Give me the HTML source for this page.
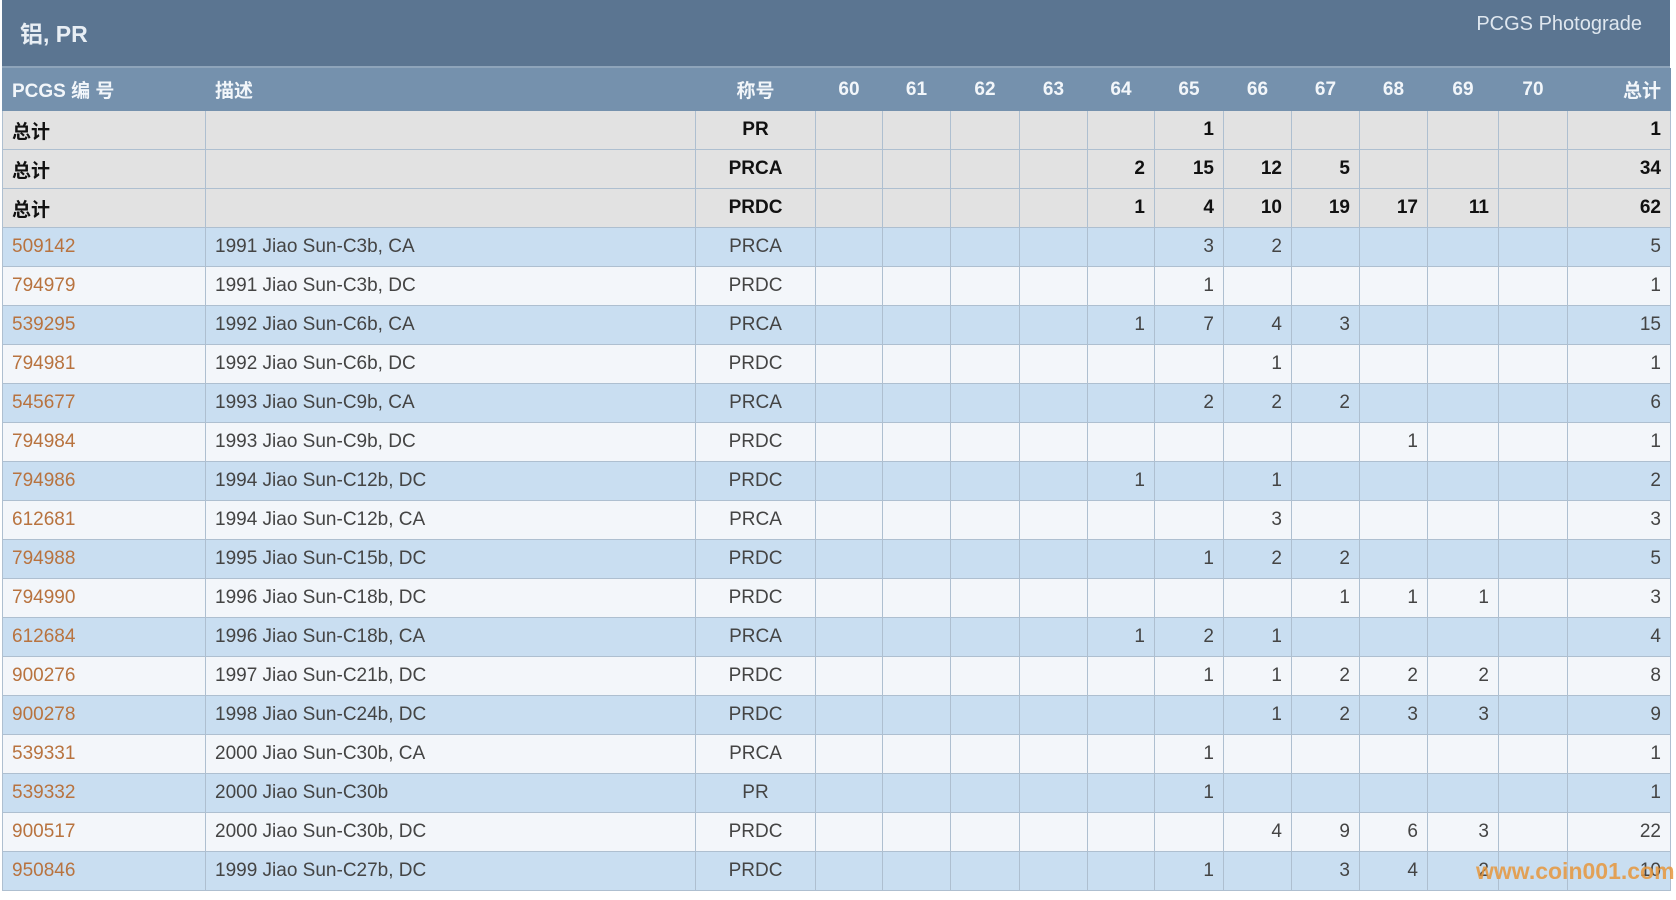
<!DOCTYPE html>
<html><head><meta charset="utf-8"><style>
body{margin:0;width:1676px;height:900px;background:#fff;overflow:hidden;font-family:"Liberation Sans","Noto Sans CJK SC",sans-serif;position:relative}
.top{position:absolute;left:2px;top:0;width:1668px;height:68px;background:#5b7591;border-bottom:2px solid #8ea4ba;box-sizing:border-box}
.top .t{position:absolute;left:18px;top:15px;color:#e8eef4;font-size:23px;font-weight:bold}
.top .r{position:absolute;right:28px;top:13px;color:#dfe7ef;font-size:20px}
table{position:absolute;left:2px;top:68px;border-collapse:collapse;table-layout:fixed;width:1668px}
td,th{border:1px solid #aebfd0;height:38px;padding:0 9px;font-size:19px;color:#444;text-align:right;white-space:nowrap;overflow:hidden}
th{background:#7591ad;color:#f2f6fa;font-weight:bold;height:41px;border-color:#7591ad}
td.l,th.l{text-align:left}
td.c,th.c{text-align:center}
tr.tot td{background:#e2e2e2;color:#111;font-weight:bold}
tr.o td{background:#c9def1}
tr.e td{background:#f3f6fa}
a{color:#b8733f;text-decoration:none}
.wm{position:absolute;left:1476px;top:858px;font-size:23px;font-weight:bold;color:rgba(230,150,60,.85);font-family:"Liberation Sans",sans-serif}
</style></head><body>
<div class="top"><div class="t">铝, PR</div><div class="r">PCGS Photograde</div></div>
<table>
<colgroup><col style="width:203px"><col style="width:490px"><col style="width:120px"><col style="width:67px"><col style="width:68px"><col style="width:69px"><col style="width:68px"><col style="width:67px"><col style="width:69px"><col style="width:68px"><col style="width:68px"><col style="width:68px"><col style="width:71px"><col style="width:69px"><col style="width:103px"></colgroup>
<tr><th class="l">PCGS 编 号</th><th class="l">描述</th><th class="c">称号</th><th class="c">60</th><th class="c">61</th><th class="c">62</th><th class="c">63</th><th class="c">64</th><th class="c">65</th><th class="c">66</th><th class="c">67</th><th class="c">68</th><th class="c">69</th><th class="c">70</th><th>总计</th></tr>
<tr class="tot"><td class="l">总计</td><td></td><td class="c">PR</td><td></td><td></td><td></td><td></td><td></td><td>1</td><td></td><td></td><td></td><td></td><td></td><td>1</td></tr>
<tr class="tot"><td class="l">总计</td><td></td><td class="c">PRCA</td><td></td><td></td><td></td><td></td><td>2</td><td>15</td><td>12</td><td>5</td><td></td><td></td><td></td><td>34</td></tr>
<tr class="tot"><td class="l">总计</td><td></td><td class="c">PRDC</td><td></td><td></td><td></td><td></td><td>1</td><td>4</td><td>10</td><td>19</td><td>17</td><td>11</td><td></td><td>62</td></tr>
<tr class="o"><td class="l"><a>509142</a></td><td class="l">1991 Jiao Sun-C3b, CA</td><td class="c">PRCA</td><td></td><td></td><td></td><td></td><td></td><td>3</td><td>2</td><td></td><td></td><td></td><td></td><td>5</td></tr>
<tr class="e"><td class="l"><a>794979</a></td><td class="l">1991 Jiao Sun-C3b, DC</td><td class="c">PRDC</td><td></td><td></td><td></td><td></td><td></td><td>1</td><td></td><td></td><td></td><td></td><td></td><td>1</td></tr>
<tr class="o"><td class="l"><a>539295</a></td><td class="l">1992 Jiao Sun-C6b, CA</td><td class="c">PRCA</td><td></td><td></td><td></td><td></td><td>1</td><td>7</td><td>4</td><td>3</td><td></td><td></td><td></td><td>15</td></tr>
<tr class="e"><td class="l"><a>794981</a></td><td class="l">1992 Jiao Sun-C6b, DC</td><td class="c">PRDC</td><td></td><td></td><td></td><td></td><td></td><td></td><td>1</td><td></td><td></td><td></td><td></td><td>1</td></tr>
<tr class="o"><td class="l"><a>545677</a></td><td class="l">1993 Jiao Sun-C9b, CA</td><td class="c">PRCA</td><td></td><td></td><td></td><td></td><td></td><td>2</td><td>2</td><td>2</td><td></td><td></td><td></td><td>6</td></tr>
<tr class="e"><td class="l"><a>794984</a></td><td class="l">1993 Jiao Sun-C9b, DC</td><td class="c">PRDC</td><td></td><td></td><td></td><td></td><td></td><td></td><td></td><td></td><td>1</td><td></td><td></td><td>1</td></tr>
<tr class="o"><td class="l"><a>794986</a></td><td class="l">1994 Jiao Sun-C12b, DC</td><td class="c">PRDC</td><td></td><td></td><td></td><td></td><td>1</td><td></td><td>1</td><td></td><td></td><td></td><td></td><td>2</td></tr>
<tr class="e"><td class="l"><a>612681</a></td><td class="l">1994 Jiao Sun-C12b, CA</td><td class="c">PRCA</td><td></td><td></td><td></td><td></td><td></td><td></td><td>3</td><td></td><td></td><td></td><td></td><td>3</td></tr>
<tr class="o"><td class="l"><a>794988</a></td><td class="l">1995 Jiao Sun-C15b, DC</td><td class="c">PRDC</td><td></td><td></td><td></td><td></td><td></td><td>1</td><td>2</td><td>2</td><td></td><td></td><td></td><td>5</td></tr>
<tr class="e"><td class="l"><a>794990</a></td><td class="l">1996 Jiao Sun-C18b, DC</td><td class="c">PRDC</td><td></td><td></td><td></td><td></td><td></td><td></td><td></td><td>1</td><td>1</td><td>1</td><td></td><td>3</td></tr>
<tr class="o"><td class="l"><a>612684</a></td><td class="l">1996 Jiao Sun-C18b, CA</td><td class="c">PRCA</td><td></td><td></td><td></td><td></td><td>1</td><td>2</td><td>1</td><td></td><td></td><td></td><td></td><td>4</td></tr>
<tr class="e"><td class="l"><a>900276</a></td><td class="l">1997 Jiao Sun-C21b, DC</td><td class="c">PRDC</td><td></td><td></td><td></td><td></td><td></td><td>1</td><td>1</td><td>2</td><td>2</td><td>2</td><td></td><td>8</td></tr>
<tr class="o"><td class="l"><a>900278</a></td><td class="l">1998 Jiao Sun-C24b, DC</td><td class="c">PRDC</td><td></td><td></td><td></td><td></td><td></td><td></td><td>1</td><td>2</td><td>3</td><td>3</td><td></td><td>9</td></tr>
<tr class="e"><td class="l"><a>539331</a></td><td class="l">2000 Jiao Sun-C30b, CA</td><td class="c">PRCA</td><td></td><td></td><td></td><td></td><td></td><td>1</td><td></td><td></td><td></td><td></td><td></td><td>1</td></tr>
<tr class="o"><td class="l"><a>539332</a></td><td class="l">2000 Jiao Sun-C30b</td><td class="c">PR</td><td></td><td></td><td></td><td></td><td></td><td>1</td><td></td><td></td><td></td><td></td><td></td><td>1</td></tr>
<tr class="e"><td class="l"><a>900517</a></td><td class="l">2000 Jiao Sun-C30b, DC</td><td class="c">PRDC</td><td></td><td></td><td></td><td></td><td></td><td></td><td>4</td><td>9</td><td>6</td><td>3</td><td></td><td>22</td></tr>
<tr class="o"><td class="l"><a>950846</a></td><td class="l">1999 Jiao Sun-C27b, DC</td><td class="c">PRDC</td><td></td><td></td><td></td><td></td><td></td><td>1</td><td></td><td>3</td><td>4</td><td>2</td><td></td><td>10</td></tr>
</table>
<div class="wm">www.coin001.com</div>
</body></html>
